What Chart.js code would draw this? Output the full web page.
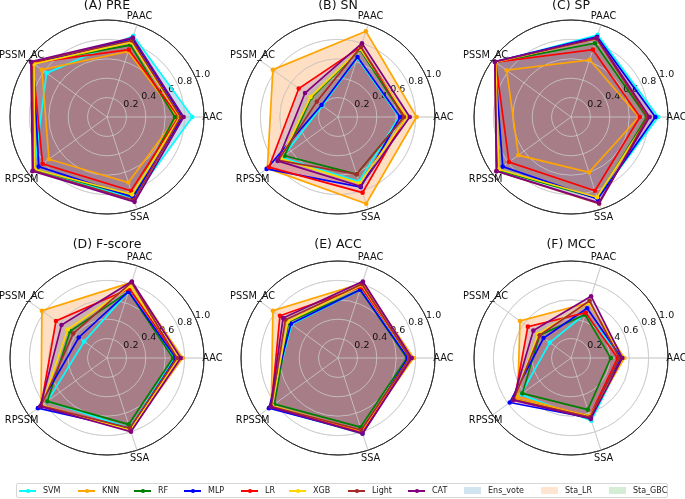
<!DOCTYPE html>
<html>
<head>
<meta charset="utf-8">
<script src="https://cdn.jsdelivr.net/npm/chart.js@4.4.0/dist/chart.umd.min.js"></script>
<style>
  body { margin: 0; background: #fff; }
  #wrap { position: relative; width: 685px; height: 499px; overflow: hidden; font-family: 'DejaVu Sans', sans-serif; }
  #wrap canvas { position: absolute; }
  #legend { position: absolute; left: 16px; top: 483px; width: 650px; height: 13px; border: 1px solid #d6d6d6; border-radius: 2px; font-size: 8px; color: #222; }
  .item { position: absolute; top: 0; height: 13px; }
  .item .key { position: absolute; top: 0; width: 17px; height: 13px; }
  .item .ln { position: absolute; left: 0; right: 0; top: 6px; height: 1.5px; }
  .item .dot { position: absolute; left: 7px; top: 5px; width: 3.5px; height: 3.5px; border-radius: 50%; }
  .item .patch { position: absolute; left: 0; right: 0; top: 3px; height: 7px; }
  .item .txt { position: absolute; left: 24px; top: 0; line-height: 13px; white-space: nowrap; }
</style>
</head>
<body>
<div id="wrap"><div id="legend"></div></div>
<script>
const features = ['AAC', 'PAAC', 'PSSM_AC', 'RPSSM', 'SSA'];
const models = ['SVM', 'KNN', 'RF', 'MLP', 'LR', 'XGB', 'Light', 'CAT'];
const fillNames = ['Ens_vote', 'Sta_LR', 'Sta_GBC'];
const titles = ['(A) PRE', '(B) SN', '(C) SP', '(D) F-score', '(E) ACC', '(F) MCC'];
const rTicks = [0.2, 0.4, 0.6, 0.8, 1.0];

// one row per model (SVM..CAT), columns follow features
const PRE = [
  [0.88, 0.88, 0.77, 0.93, 0.88],
  [0.72, 0.71, 0.83, 0.74, 0.71],
  [0.70, 0.78, 0.95, 0.92, 0.86],
  [0.78, 0.85, 0.94, 0.87, 0.87],
  [0.74, 0.73, 0.95, 0.82, 0.80],
  [0.75, 0.81, 0.93, 0.92, 0.84],
  [0.76, 0.83, 0.96, 0.94, 0.90],
  [0.79, 0.86, 0.97, 0.95, 0.92]
];
const SN = [
  [0.63, 0.64, 0.20, 0.71, 0.70],
  [0.81, 0.93, 0.83, 0.90, 0.94],
  [0.68, 0.73, 0.34, 0.68, 0.62],
  [0.64, 0.65, 0.21, 0.91, 0.76],
  [0.70, 0.76, 0.50, 0.88, 0.82],
  [0.71, 0.74, 0.35, 0.73, 0.72],
  [0.68, 0.76, 0.27, 0.76, 0.62],
  [0.74, 0.80, 0.42, 0.77, 0.75]
];
const SP = [
  [0.90, 0.89, 0.96, 0.93, 0.88],
  [0.70, 0.62, 0.82, 0.67, 0.60],
  [0.78, 0.80, 0.96, 0.93, 0.88],
  [0.87, 0.87, 0.97, 0.87, 0.89],
  [0.71, 0.73, 0.96, 0.79, 0.80],
  [0.80, 0.85, 0.96, 0.92, 0.87],
  [0.79, 0.85, 0.97, 0.95, 0.94],
  [0.81, 0.86, 0.97, 0.95, 0.93]
];
const FSCORE = [
  [0.70, 0.72, 0.29, 0.76, 0.76],
  [0.78, 0.82, 0.83, 0.84, 0.78],
  [0.68, 0.72, 0.47, 0.76, 0.72],
  [0.71, 0.72, 0.36, 0.88, 0.77],
  [0.73, 0.75, 0.65, 0.84, 0.79],
  [0.74, 0.78, 0.50, 0.83, 0.78],
  [0.72, 0.82, 0.43, 0.84, 0.76],
  [0.76, 0.83, 0.58, 0.85, 0.80]
];
const ACC = [
  [0.72, 0.74, 0.59, 0.87, 0.82],
  [0.78, 0.81, 0.83, 0.85, 0.79],
  [0.71, 0.74, 0.63, 0.81, 0.75],
  [0.72, 0.74, 0.60, 0.88, 0.81],
  [0.75, 0.77, 0.74, 0.85, 0.80],
  [0.74, 0.79, 0.64, 0.84, 0.79],
  [0.74, 0.80, 0.67, 0.85, 0.78],
  [0.76, 0.83, 0.70, 0.86, 0.82]
];
const MCC = [
  [0.53, 0.48, 0.27, 0.64, 0.68],
  [0.55, 0.60, 0.65, 0.68, 0.64],
  [0.41, 0.47, 0.40, 0.62, 0.56],
  [0.52, 0.54, 0.35, 0.78, 0.65],
  [0.48, 0.49, 0.55, 0.72, 0.63],
  [0.54, 0.60, 0.42, 0.72, 0.63],
  [0.50, 0.62, 0.40, 0.73, 0.64],
  [0.53, 0.67, 0.48, 0.74, 0.66]
];
const panels = [PRE, SN, SP, FSCORE, ACC, MCC];

const lineColors = ['cyan', 'orange', 'green', 'blue', 'red', 'gold', 'brown', 'purple'];
// ax.fill without a colour -> matplotlib default cycle
const cycle = ['31,119,180', '255,127,14', '44,160,44', '214,39,40', '148,103,189', '140,86,75', '227,119,194', '127,127,127'];
const fillAlpha = 0.25;

const centers = [[107, 117], [338, 117], [571, 117], [107, 358], [338, 358], [571, 358]];
const R = 97, PAD = 24;
// Chart.js walks clockwise, matplotlib counter-clockwise from the right
const order = [0, 4, 3, 2, 1];

const decor = {
  id: 'decor',
  beforeDatasetsDraw(chart) {
    const s = chart.scales.r;
    s.drawGrid(); // grid over the fills, under the lines (like matplotlib)
    const ctx = chart.ctx;
    ctx.save();
    ctx.font = '9.5px "DejaVu Sans"';
    ctx.fillStyle = '#111';
    ctx.textAlign = 'center';
    ctx.textBaseline = 'middle';
    const a = -22.5 * Math.PI / 180;
    rTicks.forEach(v => {
      const d = s.getDistanceFromCenterForValue(v);
      ctx.fillText(v.toFixed(1), s.xCenter + d * Math.cos(a) + 6, s.yCenter + d * Math.sin(a) - 5.5);
    });
    ctx.restore();
  },
  afterDraw(chart, args, opts) {
    const s = chart.scales.r;
    const ctx = chart.ctx;
    ctx.save();
    ctx.fillStyle = '#111';
    ctx.textAlign = 'center';
    ctx.textBaseline = 'middle';
    ctx.font = '9.8px "DejaVu Sans"';
    chart.data.labels.forEach((lab, i) => {
      const p = s.getPointPosition(i, s.drawingArea + 8.5);
      ctx.fillText(lab, p.x, p.y);
    });
    ctx.font = '12.5px "DejaVu Sans"';
    ctx.fillText(opts.title, s.xCenter, s.yCenter - s.drawingArea - opts.gap);
    ctx.restore();
  }
};

const wrap = document.getElementById('wrap');
panels.forEach((rows, n) => {
  const cv = document.createElement('canvas');
  const size = 2 * (R + PAD);
  cv.width = size; cv.height = size;
  cv.style.left = (centers[n][0] - R - PAD) + 'px';
  cv.style.top = (centers[n][1] - R - PAD) + 'px';
  cv.style.width = size + 'px'; cv.style.height = size + 'px';
  wrap.insertBefore(cv, wrap.firstChild);

  new Chart(cv, {
    type: 'radar',
    data: {
      labels: order.map(j => features[j]),
      datasets: models.map((m, k) => ({
        label: m,
        data: order.map(j => rows[k][j]),
        borderColor: lineColors[k],
        backgroundColor: 'rgba(' + cycle[k] + ',' + fillAlpha + ')',
        pointBackgroundColor: lineColors[k],
        pointBorderWidth: 0,
        pointRadius: 2.3,
        borderWidth: 1.7,
        fill: true,
        order: models.length - k
      }))
    },
    options: {
      responsive: false,
      animation: false,
      devicePixelRatio: 1,
      layout: { padding: PAD },
      plugins: {
        legend: { display: false },
        tooltip: { enabled: false },
        filler: { drawTime: 'beforeDatasetsDraw' },
        decor: { title: titles[n], gap: n < 3 ? 14 : 16 }
      },
      scales: {
        r: {
          min: 0,
          max: 1,
          startAngle: 90,
          ticks: { display: false, stepSize: 0.2 },
          pointLabels: { display: false },
          grid: {
            circular: true,
            color: c => (c.tick && c.tick.value >= 0.999) ? '#2a2a2a' : '#cdcdcd',
            lineWidth: c => (c.tick && c.tick.value >= 0.999) ? 0.9 : 0.8
          },
          angleLines: { color: '#cdcdcd', lineWidth: 0.8 }
        }
      }
    },
    plugins: [decor]
  });
});

// legend, laid out like the matplotlib one under the grid
const legendX = [2, 61, 117, 167, 224, 272, 331, 391, 447, 524, 592];
const legend = document.getElementById('legend');
const names = models.concat(fillNames);
names.forEach((name, i) => {
  const it = document.createElement('div');
  it.className = 'item';
  it.style.left = legendX[i] + 'px';
  let key;
  if (i < models.length) {
    key = '<span class="key"><span class="ln" style="background:' + lineColors[i] + '"></span>' +
          '<span class="dot" style="background:' + lineColors[i] + '"></span></span>';
  } else {
    key = '<span class="key"><span class="patch" style="background:rgba(' + cycle[i - models.length] + ',0.2)"></span></span>';
  }
  it.innerHTML = key + '<span class="txt">' + name + '</span>';
  legend.appendChild(it);
});
</script>
</body>
</html>
